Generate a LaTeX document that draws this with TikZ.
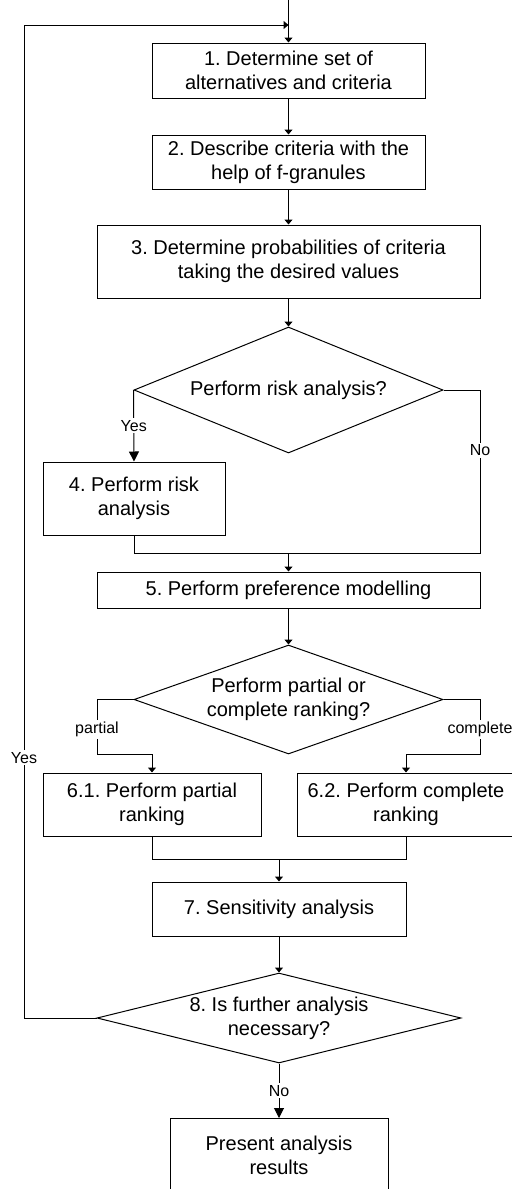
\documentclass[tikz,border=0pt]{standalone}
\usepackage{fontspec}
\setmainfont{Liberation Sans}
\frenchspacing
\usetikzlibrary{shapes.geometric,arrows.meta}
\newlength{\du}
\setlength{\du}{0.5pt}
\tikzset{
  stepbox/.style={draw, rectangle, align=center, inner sep=0pt, font=\fontsize{10}{12}\selectfont},
  choice/.style={draw, diamond, align=center, inner sep=0pt, font=\fontsize{10}{12}\selectfont},
  branch/.style={fill=white, inner sep=1pt, font=\fontsize{8}{9.6}\selectfont},
  flow/.style={-{Triangle[width=4pt,length=2.5pt]}},
  bigflow/.style={-{Triangle[width=5pt,length=5pt]}},
}
\begin{document}
\begin{tikzpicture}
\pgftransformxscale{1.000000}
\pgftransformyscale{-1.000000}
\definecolor{dialinecolor}{rgb}{0.000000, 0.000000, 0.000000}
\pgfsetstrokecolor{dialinecolor}
\pgfsetlinewidth{1.000000\du}
\useasboundingbox (0\du,0\du) rectangle (512\du,1189\du);
% steps
\node[stepbox, minimum width=273\du, minimum height=55\du] (define) at (288.5\du,70.5\du) {1. Determine set of\\alternatives and criteria};
\node[stepbox, minimum width=273\du, minimum height=54\du] (describe) at (288.5\du,162\du) {2. Describe criteria with the\\help of f-granules};
\node[stepbox, minimum width=383\du, minimum height=73\du] (probs) at (288.5\du,261.5\du) {3. Determine probabilities of criteria\\taking the desired values};
\node[choice, minimum width=309\du, minimum height=126\du, aspect=2.45] (risk) at (288.5\du,390\du) {Perform risk analysis?};
\node[stepbox, minimum width=182\du, minimum height=73\du] (riskbox) at (134\du,498.5\du) {4. Perform risk\\analysis};
\node[stepbox, minimum width=383\du, minimum height=36\du] (prefs) at (288.5\du,590\du) {5. Perform preference modelling};
\node[choice, minimum width=309\du, minimum height=109\du, aspect=2.83] (rank) at (288.5\du,699.5\du) {Perform partial or\\complete ranking?};
\node[stepbox, minimum width=218\du, minimum height=63\du] (partial) at (152\du,804.5\du) {6.1. Perform partial\\ranking};
\node[stepbox, minimum width=218\du, minimum height=63\du] (complete) at (406\du,804.5\du) {6.2. Perform complete\\ranking};
\node[stepbox, minimum width=254\du, minimum height=54\du] (sens) at (279\du,909\du) {7. Sensitivity analysis};
\node[choice, minimum width=364\du, minimum height=90\du, aspect=4] (further) at (279\du,1018\du) {8. Is further analysis\\necessary?};
\node[stepbox, minimum width=218\du, minimum height=73\du] (present) at (279\du,1155\du) {Present analysis\\results};
% bends
\coordinate (entry) at (288.5\du,0\du);
\coordinate (join) at (288.5\du,25\du);
\coordinate (loop) at (24\du,25\du);
\coordinate (noturn) at (480\du,553\du);
\coordinate (leftturn) at (97\du,754\du);
\coordinate (rightturn) at (480\du,754\du);
\coordinate (rankjoin) at (279\du,859\du);
% connectors
\draw[flow] (entry) -- (define.north);
\draw[flow] (define.south) -- (describe.north);
\draw[flow] (describe.south) -- (probs.north);
\draw[flow] (probs.south) -- (risk.north);
\draw[bigflow] (risk.west) -- node[branch] {Yes} (riskbox.north);
\draw (risk.east) -- (risk.east -| noturn) -- node[branch, pos=0.37] {No} (noturn) -- (riskbox.south |- noturn) -- (riskbox.south);
\draw[flow] (prefs.north |- noturn) -- (prefs.north);
\draw[flow] (prefs.south) -- (rank.north);
\draw[flow] (rank.west) -- (rank.west -| leftturn) -- node[branch, pos=0.55] {partial} (leftturn) -| (partial.north);
\draw[flow] (rank.east) -- (rank.east -| rightturn) -- node[branch, pos=0.55] {complete} (rightturn) -| (complete.north);
\draw (partial.south) |- (rankjoin) -| (complete.south);
\draw[flow] (rankjoin) -- (sens.north);
\draw[flow] (sens.south) -- (further.north);
\draw[bigflow] (further.south) -- node[branch] {No} (present.north);
\draw[flow] (further.west) -- (further.west -| loop) -- node[branch, pos=0.262] {Yes} (loop) -- (join);
\end{tikzpicture}
\end{document}
